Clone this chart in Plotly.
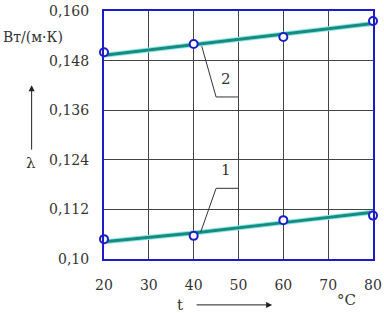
import plotly.graph_objects as go

# data
t_points = [20, 40, 60, 80]
lam1_points = [0.1048, 0.1056, 0.1094, 0.1105]
lam2_points = [0.1500, 0.1520, 0.1537, 0.1576]
t_line = [20, 40, 60, 80]
lam1_line = [0.1042, 0.1063, 0.1088, 0.1113]
lam2_line = [0.1493, 0.1519, 0.1545, 0.1570]
x_ticks = [20, 30, 40, 50, 60, 70, 80]
y_ticks = [0.100, 0.112, 0.124, 0.136, 0.148, 0.160]
y_ticklabels = ["0,10", "0,112", "0,124", "0,136", "0,148", "0,160"]
# leader lines for curve labels (x list, y list) and label positions
leader1_x = [41.6, 45.0, 49.9]
leader1_y = [0.1066, 0.1171, 0.1171]
leader2_x = [41.8, 45.0, 49.9]
leader2_y = [0.1515, 0.1392, 0.1392]
label1 = ("1", 47.3, 0.1188)
label2 = ("2", 47.3, 0.1410)

FONT = "DejaVu Serif"
TEAL = "#168b80"
CYAN = "#8fe6e6"
BLUE = "#1c1cc8"
TXT = "#333333"

fig = go.Figure()
for ly in (lam1_line, lam2_line):
    fig.add_trace(go.Scatter(x=t_line, y=ly, mode="lines", line=dict(color=CYAN, width=5), hoverinfo="skip"))
    fig.add_trace(go.Scatter(x=t_line, y=ly, mode="lines", line=dict(color=TEAL, width=3), hoverinfo="skip"))
for lp in (lam1_points, lam2_points):
    fig.add_trace(go.Scatter(x=t_points, y=lp, mode="markers", cliponaxis=False,
                             marker=dict(symbol="circle", size=8, color="white", line=dict(color=BLUE, width=2))))
for lx, ly in ((leader1_x, leader1_y), (leader2_x, leader2_y)):
    fig.add_trace(go.Scatter(x=lx, y=ly, mode="lines", line=dict(color="#333333", width=1), hoverinfo="skip"))

for txt, x, y in (label1, label2):
    fig.add_annotation(x=x, y=y, text=txt, showarrow=False, font=dict(family=FONT, size=15, color=TXT),
                       xanchor="center", yanchor="bottom")

# axis decorations
fig.add_annotation(xref="paper", yref="paper", x=-0.264, y=0.894, text="Вт/(м·К)", showarrow=False,
                   font=dict(family=FONT, size=14, color=TXT), xanchor="center", yanchor="middle")
fig.add_annotation(xref="paper", yref="paper", x=-0.270, y=0.387, text="λ", showarrow=False,
                   font=dict(family=FONT, size=15, color=TXT), xanchor="center", yanchor="middle")
fig.add_annotation(xref="paper", yref="paper", x=-0.269, y=0.701, ax=0, ay=66, text="", showarrow=True,
                   arrowhead=2, arrowsize=1.2, arrowwidth=1, arrowcolor="#222")
fig.add_annotation(xref="paper", yref="paper", x=0.283, y=-0.185, text="t", showarrow=False,
                   font=dict(family=FONT, size=15, color=TXT), xanchor="center", yanchor="middle")
fig.add_annotation(xref="paper", yref="paper", x=0.625, y=-0.185, ax=-77, ay=0, text="", showarrow=True,
                   arrowhead=2, arrowsize=1.2, arrowwidth=1, arrowcolor="#222")
fig.add_annotation(xref="paper", yref="paper", x=0.90, y=-0.165, text="°C", showarrow=False,
                   font=dict(family=FONT, size=15, color=TXT), xanchor="center", yanchor="middle")

fig.update_layout(
    width=384, height=313, margin=dict(l=104, r=11, t=11, b=54, autoexpand=False),
    paper_bgcolor="white", plot_bgcolor="white", showlegend=False,
    font=dict(family=FONT, size=14, color=TXT),
)
fig.update_xaxes(range=[20, 80], tickvals=x_ticks, showgrid=True, gridcolor="#444", gridwidth=1,
                 showline=True, linecolor=BLUE, linewidth=2, mirror=True, zeroline=False,
                 ticks="", ticklabelstandoff=12, tickfont=dict(family=FONT, size=14, color=TXT))
fig.update_yaxes(range=[0.100, 0.160], tickvals=y_ticks, ticktext=y_ticklabels, showgrid=True,
                 gridcolor="#444", gridwidth=1, showline=True, linecolor=BLUE, linewidth=2, mirror=True,
                 zeroline=False, ticks="", ticklabelstandoff=10, tickfont=dict(family=FONT, size=14, color=TXT))

fig.write_html("out.html", config={"displayModeBar": False},
               post_script="document.body.style.margin='0';document.body.style.overflow='hidden';")
